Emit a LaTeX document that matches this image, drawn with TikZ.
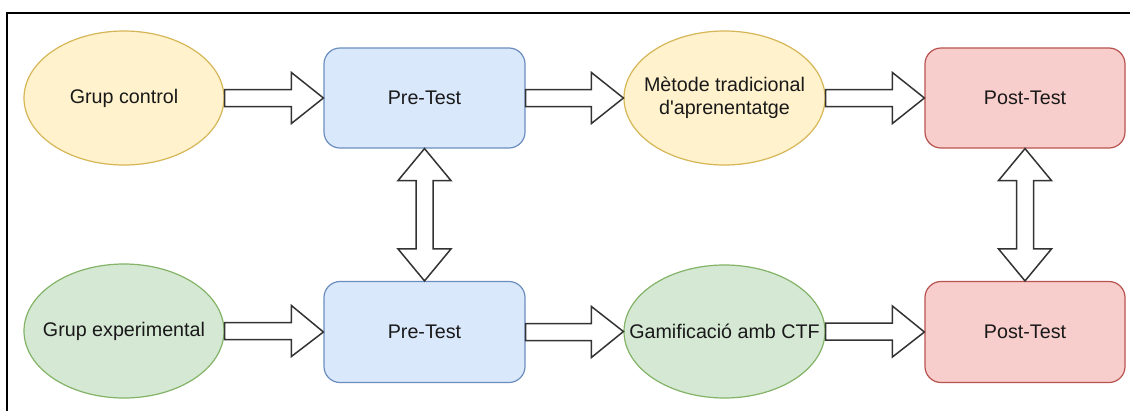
\documentclass[tikz,border=0pt]{standalone}
\usepackage{fontspec}
\setmainfont{Liberation Sans}[Ligatures=TeXOff]
\usetikzlibrary{shapes.geometric,calc}
\definecolor{yfill}{HTML}{FFF2CC}\definecolor{ydraw}{HTML}{D6B656}
\definecolor{bfill}{HTML}{DAE8FC}\definecolor{bdraw}{HTML}{6C8EBF}
\definecolor{gfill}{HTML}{D5E8D4}\definecolor{gdraw}{HTML}{82B366}
\definecolor{rfill}{HTML}{F8CECC}\definecolor{rdraw}{HTML}{B85450}
\definecolor{arrdraw}{HTML}{333333}
\tikzset{
  txt/.style={font=\fontsize{19.7}{23}\selectfont, text=black!90, align=center, inner sep=0pt},
  ell/.style={ellipse, draw, line width=1.2pt, inner sep=0pt, minimum width=200pt, minimum height=134pt},
  yell/.style={ell, fill=yfill, draw=ydraw},
  gell/.style={ell, fill=gfill, draw=gdraw},
  box/.style={rectangle, rounded corners=16pt, draw, line width=1.2pt, minimum width=201pt, minimum height=100pt, txt},
  bbox/.style={box, fill=bfill, draw=bdraw},
  rbox/.style={box, fill=rfill, draw=rdraw},
  blockarrow/.style={draw=arrdraw, fill=white, line width=1.5pt, line join=miter},
  frame/.style={draw=black, line width=2pt}
}
\newcommand\harrow[2]{%
  \path[blockarrow] let \p1=(#1.east), \p2=(#2.west) in
    (\x1,\y1+8.5pt) -- (\x2-32pt,\y1+8.5pt) -- (\x2-32pt,\y1+25.5pt) -- (\x2,\y2)
    -- (\x2-32pt,\y1-25.5pt) -- (\x2-32pt,\y1-8.5pt) -- (\x1,\y1-8.5pt) -- cycle;}
\newcommand\varrow[2]{%
  \path[blockarrow] let \p1=(#1.south), \p2=(#2.north) in
    (\x1,\y1) -- (\x1+26.5pt,\y1-32pt) -- (\x1+8.5pt,\y1-32pt) -- (\x1+8.5pt,\y2+32pt)
    -- (\x1+26.5pt,\y2+32pt) -- (\x2,\y2) -- (\x1-26.5pt,\y2+32pt) -- (\x1-8.5pt,\y2+32pt)
    -- (\x1-8.5pt,\y1-32pt) -- (\x1-26.5pt,\y1-32pt) -- cycle;}
\begin{document}
\begin{tikzpicture}[x=1pt,y=-1pt]
\useasboundingbox (0,0) rectangle (1130,410);
\fill[white] (0,0) rectangle (1130,410);
\draw[frame] (7,13) rectangle (1140,420);
% top row
\node[yell, label={[txt]center:Grup control}] (gc) at (124,98) {};
\node[bbox] (pt1) at (424.5,98) {Pre-Test};
\node[yell, minimum width=201pt, label={[txt]center:{Mètode tradicional\\d'aprenentatge}}] (mt) at (724.5,98) {};
\node[rbox, minimum width=200pt] (post1) at (1025,98) {Post-Test};
% bottom row
\node[gell, label={[txt]center:Grup experimental}] (ge) at (124,331) {};
\node[bbox, minimum height=101pt] (pt2) at (424.5,332) {Pre-Test};
\node[gell, minimum width=201pt, minimum height=133pt, label={[txt]center:Gamificació amb CTF}] (gam) at (724.5,331.5) {};
\node[rbox, minimum width=200pt, minimum height=101pt] (post2) at (1025,332) {Post-Test};
% arrows
\harrow{gc}{pt1}
\harrow{pt1}{mt}
\harrow{mt}{post1}
\harrow{ge}{pt2}
\harrow{pt2}{gam}
\harrow{gam}{post2}
\varrow{pt1}{pt2}
\varrow{post1}{post2}
\end{tikzpicture}
\end{document}
